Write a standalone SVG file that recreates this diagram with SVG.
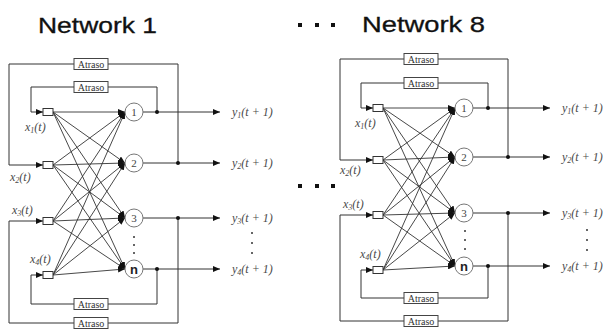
<svg xmlns="http://www.w3.org/2000/svg" width="612" height="329" viewBox="0 0 612 329">
<defs>
<marker id="arr" markerUnits="userSpaceOnUse" markerWidth="7" markerHeight="6" refX="7" refY="3" orient="auto">
<path d="M0,0 L7,3 L0,6 Z" fill="#111"/>
</marker>
<style>
.ln{fill:none;stroke:#333;stroke-width:1}
.fc{fill:none;stroke:#333;stroke-width:0.9;marker-end:url(#arr)}
.ar{fill:none;stroke:#333;stroke-width:1;marker-end:url(#arr)}
.sq{fill:#fff;stroke:#333;stroke-width:1}
.nd{fill:#fff;stroke:#777;stroke-width:1}
.bx{fill:#fff;stroke:#444;stroke-width:1}
.jn{fill:#111}
.dt{fill:#333}
.lb{font-family:"Liberation Serif",serif;font-style:italic;font-size:12px;fill:#4a4a4a}
.num{font-family:"Liberation Serif",serif;font-size:11px;fill:#444;text-anchor:middle}
.nn{font-family:"Liberation Sans",Arial,sans-serif;font-weight:bold;font-size:13px;fill:#222;text-anchor:middle}
.at{font-family:"Liberation Serif",serif;font-size:10px;fill:#333;text-anchor:middle}
.ti{font-family:"Liberation Sans",Arial,sans-serif;font-size:22px;fill:#111;stroke:#111;stroke-width:0.3}
</style>
</defs>
<rect width="612" height="329" fill="#fff"/>

<g id="titles">
<text class="ti" x="38" y="33" textLength="119" lengthAdjust="spacingAndGlyphs">Network 1</text>
<rect x="298" y="23" width="4" height="4" fill="#111"/>
<rect x="315" y="23" width="4" height="4" fill="#111"/>
<rect x="331" y="23" width="4" height="4" fill="#111"/>
<text class="ti" x="362" y="32" textLength="123" lengthAdjust="spacingAndGlyphs">Network 8</text>
<rect x="298" y="184" width="4" height="4" fill="#111"/>
<rect x="315" y="184" width="4" height="4" fill="#111"/>
<rect x="331" y="184" width="4" height="4" fill="#111"/>
</g>

<!-- ===== Network 1 ===== -->
<g id="net1-connectors">
<polyline class="ar" points="157,112 157,87 31,87 31,112 43,112"/>
<polyline class="ar" points="178,163 178,64 9,64 9,165 43,165"/>
<polyline class="ar" points="178,218 178,323 9,323 9,221 43,221"/>
<polyline class="ar" points="157,269 157,304 31,304 31,275 43,275"/>
<line class="ar" x1="143" y1="112" x2="220" y2="112"/>
<line class="ar" x1="143" y1="163" x2="220" y2="163"/>
<line class="ar" x1="143" y1="218" x2="220" y2="218"/>
<line class="ar" x1="143" y1="269" x2="220" y2="269"/>
<line class="fc" x1="53" y1="112" x2="125" y2="112"/>
<line class="fc" x1="53" y1="112" x2="125" y2="163"/>
<line class="fc" x1="53" y1="112" x2="125" y2="218"/>
<line class="fc" x1="53" y1="112" x2="125" y2="269"/>
<line class="fc" x1="53" y1="165" x2="125" y2="112"/>
<line class="fc" x1="53" y1="165" x2="125" y2="163"/>
<line class="fc" x1="53" y1="165" x2="125" y2="218"/>
<line class="fc" x1="53" y1="165" x2="125" y2="269"/>
<line class="fc" x1="53" y1="221" x2="125" y2="112"/>
<line class="fc" x1="53" y1="221" x2="125" y2="163"/>
<line class="fc" x1="53" y1="221" x2="125" y2="218"/>
<line class="fc" x1="53" y1="221" x2="125" y2="269"/>
<line class="fc" x1="53" y1="275" x2="125" y2="112"/>
<line class="fc" x1="53" y1="275" x2="125" y2="163"/>
<line class="fc" x1="53" y1="275" x2="125" y2="218"/>
<line class="fc" x1="53" y1="275" x2="125" y2="269"/>
<circle class="jn" cx="157" cy="112" r="2"/>
<circle class="jn" cx="178" cy="163" r="2"/>
<circle class="jn" cx="178" cy="218" r="2"/>
<circle class="jn" cx="157" cy="269" r="2"/>
</g>
<g id="n1-delay-outer-top"><rect class="bx" x="74" y="58.5" width="34" height="11"/><text class="at" x="91" y="67.5">Atraso</text></g>
<g id="n1-delay-inner-top"><rect class="bx" x="74" y="81.5" width="34" height="11"/><text class="at" x="91" y="90.5">Atraso</text></g>
<g id="n1-delay-inner-bottom"><rect class="bx" x="74" y="298.5" width="34" height="11"/><text class="at" x="91" y="307.5">Atraso</text></g>
<g id="n1-delay-outer-bottom"><rect class="bx" x="74" y="317.5" width="34" height="11"/><text class="at" x="91" y="326.5">Atraso</text></g>
<g id="n1-in1"><rect class="sq" x="43" y="108.5" width="10" height="7"/><text class="lb" x="25" y="131">x<tspan font-size="8" dy="2">1</tspan><tspan dy="-2">(t)</tspan></text></g>
<g id="n1-in2"><rect class="sq" x="43" y="161.5" width="10" height="7"/><text class="lb" x="10" y="181">x<tspan font-size="8" dy="2">2</tspan><tspan dy="-2">(t)</tspan></text></g>
<g id="n1-in3"><rect class="sq" x="43" y="217.5" width="10" height="7"/><text class="lb" x="12" y="214">x<tspan font-size="8" dy="2">3</tspan><tspan dy="-2">(t)</tspan></text></g>
<g id="n1-in4"><rect class="sq" x="43" y="271.5" width="10" height="7"/><text class="lb" x="30" y="263">x<tspan font-size="8" dy="2">4</tspan><tspan dy="-2">(t)</tspan></text></g>
<g id="n1-node1"><circle class="nd" cx="134" cy="112" r="9"/><text class="num" x="134" y="116">1</text></g>
<g id="n1-node2"><circle class="nd" cx="134" cy="163" r="9"/><text class="num" x="134" y="167">2</text></g>
<g id="n1-node3"><circle class="nd" cx="134" cy="218" r="9"/><text class="num" x="134" y="222">3</text></g>
<g id="n1-noden"><circle class="nd" cx="134" cy="269" r="9"/><text class="nn" x="134" y="274">n</text></g>
<g id="n1-node-dots"><circle class="dt" cx="134" cy="237" r="1"/><circle class="dt" cx="134" cy="245" r="1"/><circle class="dt" cx="134" cy="253" r="1"/></g>
<g id="n1-out1"><text class="lb" x="232" y="116">y<tspan font-size="8" dy="2">1</tspan><tspan dy="-2">(t + 1)</tspan></text></g>
<g id="n1-out2"><text class="lb" x="232" y="167">y<tspan font-size="8" dy="2">2</tspan><tspan dy="-2">(t + 1)</tspan></text></g>
<g id="n1-out3"><text class="lb" x="232" y="222">y<tspan font-size="8" dy="2">3</tspan><tspan dy="-2">(t + 1)</tspan></text></g>
<g id="n1-out4"><text class="lb" x="232" y="273">y<tspan font-size="8" dy="2">4</tspan><tspan dy="-2">(t + 1)</tspan></text></g>
<g id="n1-out-dots"><circle class="dt" cx="252" cy="233" r="1"/><circle class="dt" cx="252" cy="243" r="1"/><circle class="dt" cx="252" cy="253" r="1"/></g>

<!-- ===== Network 8 ===== -->
<g id="net8-connectors">
<polyline class="ar" points="488,108 488,83 361,83 361,108 373,108"/>
<polyline class="ar" points="508,157 508,59 340,59 340,160 373,160"/>
<polyline class="ar" points="508,213 508,321 340,321 340,215 373,215"/>
<polyline class="ar" points="488,266 488,298 361,298 361,270 373,270"/>
<line class="ar" x1="473" y1="108" x2="550" y2="108"/>
<line class="ar" x1="473" y1="157" x2="550" y2="157"/>
<line class="ar" x1="473" y1="213" x2="550" y2="213"/>
<line class="ar" x1="473" y1="266" x2="550" y2="266"/>
<line class="fc" x1="383" y1="108" x2="455" y2="108"/>
<line class="fc" x1="383" y1="108" x2="455" y2="157"/>
<line class="fc" x1="383" y1="108" x2="455" y2="213"/>
<line class="fc" x1="383" y1="108" x2="455" y2="266"/>
<line class="fc" x1="383" y1="160" x2="455" y2="108"/>
<line class="fc" x1="383" y1="160" x2="455" y2="157"/>
<line class="fc" x1="383" y1="160" x2="455" y2="213"/>
<line class="fc" x1="383" y1="160" x2="455" y2="266"/>
<line class="fc" x1="383" y1="215" x2="455" y2="108"/>
<line class="fc" x1="383" y1="215" x2="455" y2="157"/>
<line class="fc" x1="383" y1="215" x2="455" y2="213"/>
<line class="fc" x1="383" y1="215" x2="455" y2="266"/>
<line class="fc" x1="383" y1="270" x2="455" y2="108"/>
<line class="fc" x1="383" y1="270" x2="455" y2="157"/>
<line class="fc" x1="383" y1="270" x2="455" y2="213"/>
<line class="fc" x1="383" y1="270" x2="455" y2="266"/>
<circle class="jn" cx="488" cy="108" r="2"/>
<circle class="jn" cx="508" cy="157" r="2"/>
<circle class="jn" cx="508" cy="213" r="2"/>
<circle class="jn" cx="488" cy="266" r="2"/>
</g>
<g id="n8-delay-outer-top"><rect class="bx" x="404" y="53.5" width="34" height="11"/><text class="at" x="421" y="62.5">Atraso</text></g>
<g id="n8-delay-inner-top"><rect class="bx" x="404" y="77.5" width="34" height="11"/><text class="at" x="421" y="86.5">Atraso</text></g>
<g id="n8-delay-inner-bottom"><rect class="bx" x="404" y="292.5" width="34" height="11"/><text class="at" x="421" y="301.5">Atraso</text></g>
<g id="n8-delay-outer-bottom"><rect class="bx" x="404" y="315.5" width="34" height="11"/><text class="at" x="421" y="324.5">Atraso</text></g>
<g id="n8-in1"><rect class="sq" x="373" y="104.5" width="10" height="7"/><text class="lb" x="355" y="127">x<tspan font-size="8" dy="2">1</tspan><tspan dy="-2">(t)</tspan></text></g>
<g id="n8-in2"><rect class="sq" x="373" y="156.5" width="10" height="7"/><text class="lb" x="340" y="174">x<tspan font-size="8" dy="2">2</tspan><tspan dy="-2">(t)</tspan></text></g>
<g id="n8-in3"><rect class="sq" x="373" y="211.5" width="10" height="7"/><text class="lb" x="343" y="208">x<tspan font-size="8" dy="2">3</tspan><tspan dy="-2">(t)</tspan></text></g>
<g id="n8-in4"><rect class="sq" x="373" y="266.5" width="10" height="7"/><text class="lb" x="360" y="258">x<tspan font-size="8" dy="2">4</tspan><tspan dy="-2">(t)</tspan></text></g>
<g id="n8-node1"><circle class="nd" cx="464" cy="108" r="9"/><text class="num" x="464" y="112">1</text></g>
<g id="n8-node2"><circle class="nd" cx="464" cy="157" r="9"/><text class="num" x="464" y="161">2</text></g>
<g id="n8-node3"><circle class="nd" cx="464" cy="213" r="9"/><text class="num" x="464" y="217">3</text></g>
<g id="n8-noden"><circle class="nd" cx="464" cy="266" r="9"/><text class="nn" x="464" y="271">n</text></g>
<g id="n8-node-dots"><circle class="dt" cx="465" cy="231" r="1"/><circle class="dt" cx="465" cy="240" r="1"/><circle class="dt" cx="465" cy="249" r="1"/></g>
<g id="n8-out1"><text class="lb" x="562" y="112">y<tspan font-size="8" dy="2">1</tspan><tspan dy="-2">(t + 1)</tspan></text></g>
<g id="n8-out2"><text class="lb" x="562" y="161">y<tspan font-size="8" dy="2">2</tspan><tspan dy="-2">(t + 1)</tspan></text></g>
<g id="n8-out3"><text class="lb" x="562" y="217">y<tspan font-size="8" dy="2">3</tspan><tspan dy="-2">(t + 1)</tspan></text></g>
<g id="n8-out4"><text class="lb" x="562" y="270">y<tspan font-size="8" dy="2">4</tspan><tspan dy="-2">(t + 1)</tspan></text></g>
<g id="n8-out-dots"><circle class="dt" cx="587" cy="230" r="1"/><circle class="dt" cx="587" cy="240" r="1"/><circle class="dt" cx="587" cy="250" r="1"/></g>
</svg>
